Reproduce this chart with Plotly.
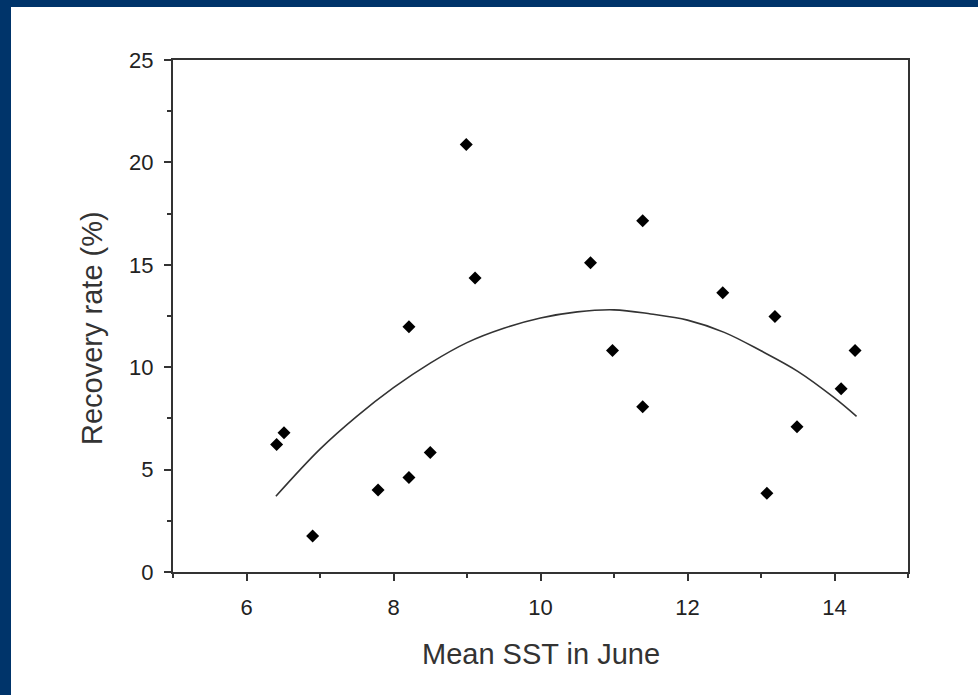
import plotly.graph_objects as go

sst = [6.41, 6.51, 6.90, 7.79, 8.21, 8.21, 8.50, 8.99, 9.11, 10.68,
       10.98, 11.39, 11.39, 12.48, 13.08, 13.19, 13.49, 14.09, 14.28]
recovery = [6.22, 6.80, 1.76, 4.00, 11.98, 4.62, 5.83, 20.87, 14.36, 15.10,
            10.81, 17.15, 8.07, 13.64, 3.84, 12.47, 7.09, 8.95, 10.81]

# Fitted curve
curve_x = [6.4, 7.0, 7.5, 8.0, 8.5, 9.0, 9.5, 10.0, 10.5, 11.0,
           11.5, 12.0, 12.5, 13.0, 13.5, 14.0, 14.3]
curve_y = [3.7, 6.0, 7.6, 9.0, 10.2, 11.2, 11.9, 12.4, 12.7, 12.8,
           12.6, 12.3, 11.7, 10.8, 9.8, 8.5, 7.6]

x_tickvals = [6, 8, 10, 12, 14]
y_tickvals = [0, 5, 10, 15, 20, 25]

NAVY = "#00346a"
FONT = "Liberation Sans, Arial, sans-serif"

fig = go.Figure()
fig.add_trace(go.Scatter(x=curve_x, y=curve_y, mode="lines",
                         line=dict(color="#333333", width=1.6, shape="spline"),
                         showlegend=False, hoverinfo="skip"))
fig.add_trace(go.Scatter(x=sst, y=recovery, mode="markers",
                         marker=dict(symbol="diamond", size=10, color="black",
                                     line=dict(width=0)),
                         showlegend=False))

W, H = 978, 695
L, R, T, B = 173, 908, 60, 572
pw, ph = R - L, B - T

def px(xp):
    return (xp - L) / pw

def py(yp):
    return (B - yp) / ph

shapes = [
    # navy frame strips (left and top)
    dict(type="rect", xref="paper", yref="paper", x0=px(0), x1=px(11), y0=py(H), y1=py(0),
         fillcolor=NAVY, line=dict(width=0), layer="above"),
    dict(type="rect", xref="paper", yref="paper", x0=px(0), x1=px(W), y0=py(7), y1=py(0),
         fillcolor=NAVY, line=dict(width=0), layer="above"),
]

axis_common = dict(showline=True, linecolor="#333333", linewidth=2, mirror=True,
                   ticks="outside", ticklen=7, tickwidth=2, tickcolor="#333333",
                   showgrid=False, zeroline=False,
                   tickfont=dict(family=FONT, size=22, color="#222222"))

fig.update_layout(
    width=W, height=H,
    margin=dict(l=L, r=W - R, t=T, b=H - B),
    paper_bgcolor="white", plot_bgcolor="white",
    shapes=shapes,
    xaxis=dict(range=[5, 15], tickvals=x_tickvals,
               minor=dict(dtick=1, tick0=5, ticks="outside", ticklen=4, tickwidth=2,
                          tickcolor="#333333"),
               ticklabelstandoff=8, **axis_common),
    yaxis=dict(range=[0, 25], tickvals=y_tickvals,
               minor=dict(dtick=2.5, tick0=0, ticks="outside", ticklen=4, tickwidth=2,
                          tickcolor="#333333"),
               ticklabelstandoff=6, **axis_common),
    annotations=[
        dict(text="Mean SST in June", xref="paper", yref="paper", x=0.5, y=py(654),
             xanchor="center", yanchor="middle", showarrow=False,
             font=dict(family=FONT, size=29, color="#333333")),
        dict(text="Recovery rate (%)", xref="paper", yref="paper", x=px(92), y=py(328),
             xanchor="center", yanchor="middle", textangle=-90, showarrow=False,
             font=dict(family=FONT, size=29, color="#333333")),
    ],
)

fig.write_html("out.html")
